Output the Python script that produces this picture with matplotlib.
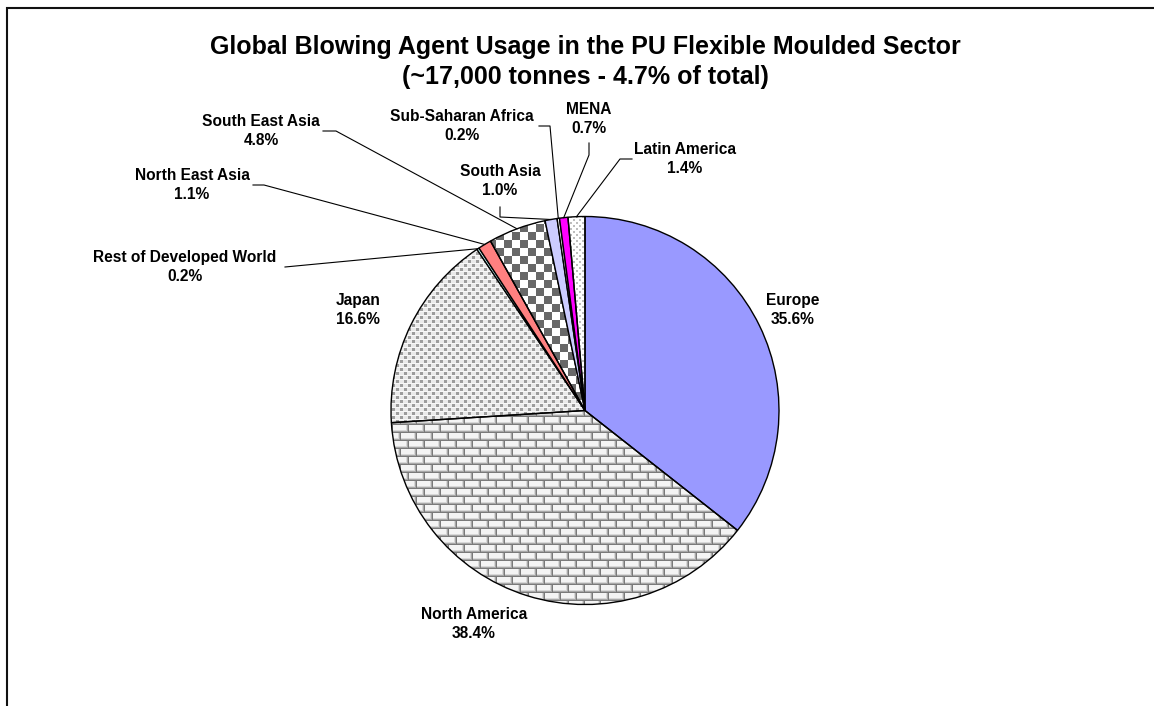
import numpy as np
import matplotlib
matplotlib.use("Agg")
import matplotlib.pyplot as plt
from matplotlib.colors import to_rgb

# ---- data -------------------------------------------------------------
regions = ["Europe", "North America", "Japan", "Rest of Developed World",
           "North East Asia", "South East Asia", "South Asia",
           "Sub-Saharan Africa", "MENA", "Latin America"]
shares = [35.6, 38.4, 16.6, 0.2, 1.1, 4.8, 1.0, 0.2, 0.7, 1.4]

title_lines = ["Global Blowing Agent Usage in the PU Flexible Moulded Sector",
               "(~17,000 tonnes - 4.7% of total)"]

# ---- layout (pixel units, y measured from the top) --------------------
W, H = 1154, 706
CX, CY, R = 585, 410.5, 194

label_pos = {
    "Europe": (793, 310),
    "North America": (474, 624),
    "Japan": (358, 310),
    "Rest of Developed World": (185, 267),
    "North East Asia": (192, 185),
    "South East Asia": (261, 131),
    "South Asia": (500, 181),
    "Sub-Saharan Africa": (462, 126),
    "MENA": (589, 119),
    "Latin America": (685, 159),
}
# leader lines: fixed points near the label, the last point sits on the slice
leader_pts = {
    "Rest of Developed World": [(285, 267)],
    "North East Asia": [(253, 185), (264, 185)],
    "South East Asia": [(323, 131), (336, 131)],
    "South Asia": [(500, 207), (500, 217)],
    "Sub-Saharan Africa": [(539, 126), (550, 126)],
    "MENA": [(589, 143), (589, 155)],
    "Latin America": [(632, 159), (620, 159)],
}

FONT = "Liberation Sans"


def py(y):
    return H - y


# ---- fill textures ------------------------------------------------------
ii, jj = np.mgrid[0:H, 0:W]


def canvas(bg):
    img = np.empty((H, W, 3))
    img[:] = to_rgb(bg)
    return img


def brick_texture():
    img = canvas("#F4F4F4")
    r = ii % 8
    shift = ((ii // 8) % 2) * 8
    c = (jj + shift) % 16
    img[(r == 6) | (c == 14)] = to_rgb("#D8D8D8")
    img[(r == 7) | (c == 15)] = to_rgb("#A8A8A8")
    img[(r == 0) | (c == 0)] = to_rgb("#7A7A7A")
    return img


def dot_texture():
    img = canvas("#EAEAEA")
    a = (ii % 8 < 3) & (jj % 8 < 3)
    b = ((ii + 4) % 8 < 3) & ((jj + 4) % 8 < 3)
    img[a | b] = to_rgb("#9C9C9C")
    img[(ii % 4 == 3) & ~(a | b)] = to_rgb("#F8F8F8")
    return img


def checker_texture():
    img = canvas("#FFFFFF")
    img[((ii // 8) + (jj // 8)) % 2 == 1] = to_rgb("#686868")
    return img


def diamond_texture():
    img = canvas("#FFFFFF")
    m = ((ii % 6 < 2) & (jj % 6 < 2)) | (((ii + 3) % 6 < 2) & ((jj + 3) % 6 < 2))
    img[m] = to_rgb("#BEBEBE")
    return img


fills = {
    "Europe": "#9999FF",
    "North America": brick_texture,
    "Japan": dot_texture,
    "Rest of Developed World": "#CCFFFF",
    "North East Asia": "#FF8080",
    "South East Asia": checker_texture,
    "South Asia": "#CCCCFF",
    "Sub-Saharan Africa": "#FFFFFF",
    "MENA": "#FF00FF",
    "Latin America": diamond_texture,
}

# ---- figure -------------------------------------------------------------
fig = plt.figure(figsize=(W / 100, H / 100), dpi=100)
ax = fig.add_axes([0, 0, 1, 1])

face = [fills[n] if isinstance(fills[n], str) else "none" for n in regions]
wedges, _ = ax.pie(shares, colors=face, startangle=90, counterclock=False,
                   center=(CX, py(CY)), radius=R,
                   wedgeprops=dict(edgecolor="black", linewidth=1.0))
for w in wedges:
    w.set_zorder(2)

for name, w in zip(regions, wedges):
    f = fills[name]
    if not isinstance(f, str):
        im = ax.imshow(f(), extent=(0, W, 0, H), origin="upper",
                       interpolation="nearest", zorder=1)
        im.set_clip_path(w)

ax.set_xlim(0, W)
ax.set_ylim(0, H)
ax.set_aspect("equal")
ax.axis("off")

# labels
for name, share in zip(regions, shares):
    x, y = label_pos[name]
    ax.text(x, py(y), f"{name}\n{share:.1f}%", ha="center", va="center",
            fontsize=11.2, fontweight="bold", family=FONT, linespacing=1.36,
            zorder=4)

# leader lines
for name, w in zip(regions, wedges):
    if name not in leader_pts:
        continue
    t = np.deg2rad((w.theta1 + w.theta2) / 2)
    ex, ey = CX + R * np.cos(t), py(CY) + R * np.sin(t)
    xs = [p[0] for p in leader_pts[name]] + [ex]
    ys = [py(p[1]) for p in leader_pts[name]] + [ey]
    ax.plot(xs, ys, color="black", lw=0.8, zorder=3)

# title
for k, line in enumerate(title_lines):
    ax.text(585, py(47 + 30 * k), line, ha="center", va="center",
            fontsize=18, fontweight="bold", family=FONT)

# chart-area frame
ax.plot([7, 7, W + 10], [py(H + 10), py(8), py(8)], color="#111111",
        lw=1.5, clip_on=False, solid_joinstyle="miter")

fig.savefig("out.png", dpi=100)
